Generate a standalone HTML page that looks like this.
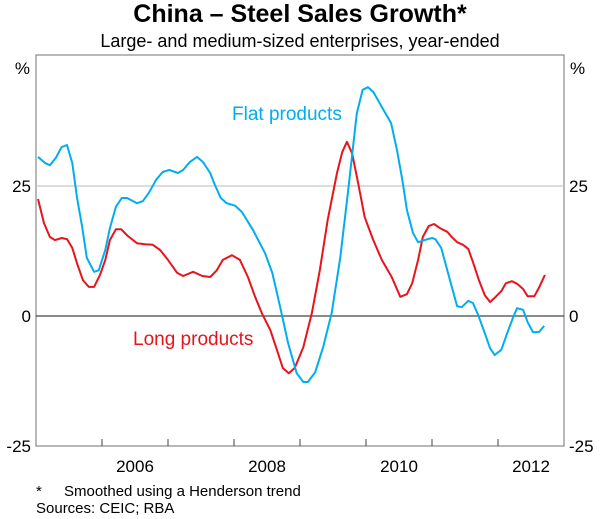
<!DOCTYPE html>
<html><head><meta charset="utf-8"><style>
body{margin:0;background:#fff;font-family:"Liberation Sans",Arial,sans-serif;}
svg{display:block}
</style></head><body>
<svg width="600" height="519" viewBox="0 0 600 519" id="c">
<text x="300" y="22" text-anchor="middle" font-size="25" font-weight="bold" fill="#000">China – Steel Sales Growth*</text>
<text x="300" y="47" text-anchor="middle" font-size="18" fill="#000">Large- and medium-sized enterprises, year-ended</text>
<g id="axes"></g>
<g id="series"></g>
<text x="232" y="120" font-size="19" fill="#00aeef">Flat products</text>
<text x="133" y="345" font-size="19" fill="#e8141c">Long products</text>
<text x="36" y="496" font-size="15" fill="#000">*</text>
<text x="64" y="496" font-size="15" fill="#000">Smoothed using a Henderson trend</text>
<text x="36" y="513" font-size="15" fill="#000">Sources: CEIC; RBA</text>
</svg>
<script>
const yTicks=[-25,0,25];
const xYearLabels=["2006","2008","2010","2012"];
const flatDates=[2005.03,2005.14,2005.21,2005.30,2005.39,2005.47,2005.55,2005.62,2005.70,2005.77,2005.88,2005.95,2006.05,2006.12,2006.21,2006.30,2006.38,2006.53,2006.62,2006.71,2006.82,2006.92,2007.02,2007.15,2007.23,2007.33,2007.44,2007.53,2007.64,2007.71,2007.80,2007.89,2008.02,2008.12,2008.29,2008.47,2008.58,2008.70,2008.82,2008.95,2009.05,2009.12,2009.23,2009.35,2009.48,2009.61,2009.73,2009.86,2009.95,2010.03,2010.11,2010.24,2010.38,2010.47,2010.55,2010.62,2010.71,2010.79,2010.89,2011.00,2011.05,2011.14,2011.21,2011.30,2011.38,2011.45,2011.55,2011.62,2011.70,2011.80,2011.88,2011.95,2012.05,2012.14,2012.23,2012.29,2012.38,2012.45,2012.53,2012.62,2012.70];
const flatValues=[30.6,29.4,29.0,30.4,32.5,32.9,29.4,22.9,17.1,11.2,8.5,8.8,12.7,16.9,21.0,22.7,22.7,21.7,22.1,23.7,26.2,27.7,28.1,27.5,28.1,29.6,30.6,29.6,27.5,25.2,22.7,21.7,21.2,20.0,16.5,12.1,8.3,1.7,-5.2,-11.0,-12.7,-12.7,-10.8,-6.0,0.6,11.3,24.2,39.0,43.5,44.0,43.1,40.2,37.1,31.9,26.2,20.4,16.0,14.2,14.6,15.0,14.8,13.1,9.8,5.6,1.9,1.7,2.9,2.5,0.2,-3.3,-6.2,-7.5,-6.5,-3.3,-0.2,1.5,1.2,-1.2,-3.1,-3.1,-1.9];
const longDates=[2005.03,2005.12,2005.21,2005.29,2005.39,2005.47,2005.55,2005.62,2005.71,2005.80,2005.88,2005.97,2006.05,2006.12,2006.21,2006.29,2006.39,2006.53,2006.65,2006.77,2006.88,2007.00,2007.14,2007.23,2007.38,2007.52,2007.64,2007.74,2007.83,2007.97,2008.09,2008.21,2008.32,2008.42,2008.55,2008.65,2008.74,2008.83,2008.92,2009.05,2009.18,2009.30,2009.42,2009.56,2009.64,2009.71,2009.79,2009.88,2009.98,2010.11,2010.24,2010.39,2010.52,2010.62,2010.70,2010.79,2010.86,2010.95,2011.03,2011.12,2011.23,2011.30,2011.38,2011.47,2011.55,2011.62,2011.71,2011.80,2011.88,2011.95,2012.05,2012.12,2012.21,2012.29,2012.38,2012.45,2012.55,2012.62,2012.71];
const longValues=[22.5,17.9,15.2,14.6,15.0,14.8,13.1,10.2,6.9,5.6,5.6,7.9,10.8,14.6,16.7,16.7,15.4,14.0,13.8,13.7,12.7,10.8,8.3,7.7,8.5,7.7,7.5,8.8,10.8,11.7,10.8,7.5,3.7,0.6,-2.7,-6.5,-10.0,-11.0,-10.0,-6.0,0.6,8.8,18.5,27.5,31.5,33.5,31.3,25.6,19.0,14.6,10.8,7.5,3.7,4.2,6.3,10.8,15.2,17.3,17.7,16.9,16.2,15.2,14.2,13.7,12.9,10.4,6.9,4.0,2.7,3.5,4.8,6.3,6.7,6.2,5.2,3.8,3.8,5.4,7.9];

const L=36,R=564,T=55,B=446,X0=2005,X1=2013,Y0=-25,Y1=50.2;
const xs=d=>L+(d-X0)/(X1-X0)*(R-L);
const ys=v=>B-(v-Y0)/(Y1-Y0)*(B-T);
const NS="http://www.w3.org/2000/svg";
const ax=document.getElementById('axes'),se=document.getElementById('series');
function mk(tag,attrs,parent){const e=document.createElementNS(NS,tag);for(const k in attrs)e.setAttribute(k,attrs[k]);parent.appendChild(e);return e;}
let e;
e=mk('rect',{x:L,y:T,width:R-L,height:B-T,fill:'none',stroke:'#888','stroke-width':1.2},ax);


yTicks.forEach(v=>{
  const y=ys(v);
  if(v>Y0){
    e=mk('line',{x1:L,x2:R,y1:y,y2:y,stroke:v===0?'#444':'#c8c8c8','stroke-width':1.2},ax);
    
    
  }
  e=mk('text',{x:L-5,y:y+6,'text-anchor':'end','font-size':17},ax);e.textContent=v;
  
  
  e=mk('text',{x:R+5,y:y+6,'text-anchor':'start','font-size':17},ax);e.textContent=v;
  
  
});
e=mk('text',{x:L-6,y:T+19,'text-anchor':'end','font-size':17},ax);e.textContent='%';


e=mk('text',{x:R+6,y:T+19,'text-anchor':'start','font-size':17},ax);e.textContent='%';


for(let yr=X0+1;yr<X1;yr++){
  e=mk('line',{x1:xs(yr),x2:xs(yr),y1:B,y2:B-7,stroke:'#444','stroke-width':1},ax);
  
  
}
xYearLabels.forEach(s=>{
  const yr=+s;
  e=mk('text',{x:xs(yr+0.5),y:B+26,'text-anchor':'middle','font-size':17},ax);e.textContent=s;
  
  
});
function line(d,v,col,name){
  const p=d.map((t,i)=>(i?'L':'M')+xs(t).toFixed(1)+','+ys(v[i]).toFixed(1)).join(' ');
  const el=mk('path',{d:p,fill:'none',stroke:col,'stroke-width':2,'stroke-linejoin':'round'},se);
  
  
}
line(longDates,longValues,'#e8141c','long-products-line');
line(flatDates,flatValues,'#00aeef','flat-products-line');
</script>
</body></html>
